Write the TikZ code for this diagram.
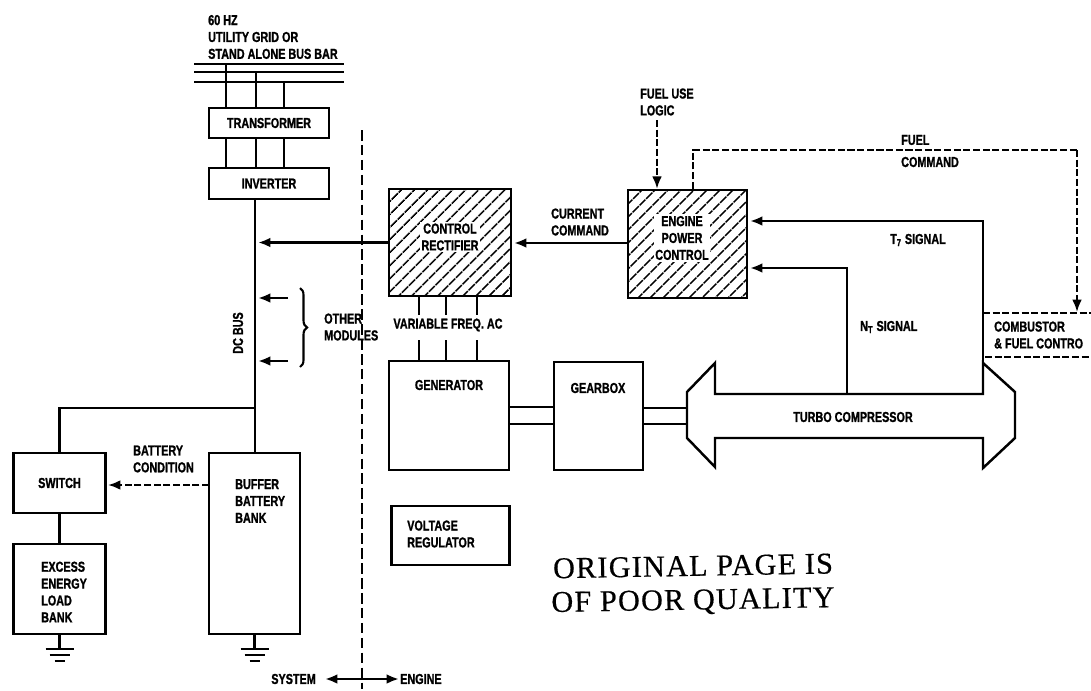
\documentclass[tikz,border=0pt]{standalone}
\usepackage{fontspec}
\setmainfont{Liberation Sans}[FakeStretch=0.75, BoldFeatures={FakeBold=1.2}]
\newfontfamily\stampfont{Liberation Serif}[FakeBold=0.5, LetterSpace=4]
\usepackage{tikz}
\usetikzlibrary{arrows.meta,patterns.meta,decorations.pathreplacing}

\begin{document}
\begin{tikzpicture}[>={Latex[length=7pt,width=5.5pt]}, x=0.02cm, y=-0.02cm, line width=1.4pt,
    block/.style={draw, inner sep=0pt, font=\bfseries\fontsize{8.2}{9.6}\selectfont, align=center},
    hatched/.style={block, pattern={Lines[angle=45, distance=5.4pt, line width=1pt]}},
    tag/.style={inner sep=0pt, font=\bfseries\fontsize{8.2}{9.6}\selectfont, align=left},
    cover/.style={tag, fill=white, inner sep=1pt, align=center},
    signal/.style={dash pattern=on 4pt off 1.5pt, line width=1.2pt},
    stamp/.style={rotate=1, inner sep=0pt, font=\stampfont\fontsize{17.2}{18}\selectfont}]
    \useasboundingbox (0,0) rectangle (1091,690);

    % grid side
    \coordinate (busL) at (194,0);
    \coordinate (busR) at (344,0);
    \node[tag, anchor=west] (grid) at (207,37) {60 HZ\\UTILITY GRID OR\\STAND ALONE BUS BAR};
    \node[block, minimum width=2.4cm, minimum height=0.6cm] (transformer) at (269,123) {TRANSFORMER};
    \node[block, minimum width=2.4cm, minimum height=0.62cm] (inverter) at (269,183.5) {INVERTER};

    \foreach \p/\x/\y in {a/226/64,b/256/72,c/284/82} {
        \coordinate (bus\p) at (\x,\y);
        \draw (busL |- bus\p) -- (busR |- bus\p);
        \draw (bus\p) -- (bus\p |- transformer.north);
        \draw (bus\p |- transformer.south) -- (bus\p |- inverter.north);
    }

    % dc bus and storage
    \node[block, minimum width=1.84cm, minimum height=1.2cm] (switch) at (59.5,483) {SWITCH};
    \node[block, minimum width=1.84cm, minimum height=1.8cm] (excess) at (59.5,589) {};
    \node[block, minimum width=1.82cm, minimum height=3.62cm] (buffer) at (254.5,543.5) {};
    \node[tag, anchor=west] (excesstext) at (40,592) {EXCESS\\ENERGY\\LOAD\\BANK};
    \node[tag, anchor=west] (buffertext) at (234,501) {BUFFER\\BATTERY\\BANK};

    \coordinate (invout) at (255,199);
    \coordinate (busend) at (255,453);
    \coordinate (branch) at (255,408);
    \coordinate (railin) at (258,242.5);
    \draw (invout) -- (busend);
    \draw (branch) -| (switch.north);
    \draw (switch) -- (excess);
    \node[tag, rotate=90] (dcbus) at (238,333) {DC BUS};

    \foreach \n in {excess,buffer} {
        \coordinate (\n gnd) at ([yshift=-0.28cm]\n.south);
        \draw (\n.south) -- (\n gnd);
        \draw (\n gnd) ++(-14,0) -- ++(28,0) ++(-24,6) -- ++(20,0) ++(-15,6) -- ++(10,0);
    }

    \coordinate (batout) at (209,485);
    \coordinate (batin) at (108,485);
    \draw[signal, ->] (batout) -- (batin);
    \node[tag, anchor=west] (battery) at (132,459) {BATTERY\\CONDITION};

    % other modules
    \foreach \i/\y in {m1/298,m2/361} {
        \coordinate (\i a) at (288,\y);
        \coordinate (\i b) at (258,\y);
        \draw[->] (\i a) -- (\i b);
    }
    \coordinate (braceT) at (300,288);
    \coordinate (braceB) at (300,367);
    \draw[line width=1.2pt, decorate, decoration={brace, amplitude=4pt}] (braceT) -- (braceB);
    \node[tag, anchor=west] (others) at (323,327) {OTHER\\MODULES};

    % system / engine boundary
    \coordinate (sysT) at (362,130);
    \coordinate (sysB) at (362,689);
    \draw[dash pattern=on 6pt off 2.5pt, line width=1.5pt] (sysT) -- (sysB);
    \node[tag, anchor=east] (system) at (317,679) {SYSTEM};
    \node[tag, anchor=west] (engineside) at (399,679) {ENGINE};
    \draw[<->] (system.east) ++(8,0) -- (engineside.west);

    % control side
    \node[hatched, minimum width=2.44cm, minimum height=2.14cm] (rectifier) at (450,242.5) {};
    \node[cover] (rectifiertext) at (450,237) {CONTROL\\RECTIFIER};
    \node[hatched, minimum width=2.38cm, minimum height=2.16cm] (engine) at (687.5,244) {};
    \node[cover] (enginetext) at (682,238) {ENGINE\\POWER\\CONTROL};

    \draw[->] (rectifier) -- (railin);
    \coordinate (cmdin) at (514,243);
    \draw[->] (engine.west |- cmdin) -- (cmdin);
    \node[tag, anchor=west] (current) at (550,222) {CURRENT\\COMMAND};

    % machine train
    \node[block, minimum width=2.4cm, minimum height=2.18cm] (generator) at (449,415.5) {};
    \node[tag] (generatortext) at (449,385) {GENERATOR};
    \node[block, minimum width=1.78cm, minimum height=2.16cm] (gearbox) at (598.5,416) {};
    \node[tag] (gearboxtext) at (598,388) {GEARBOX};
    \node[block, minimum width=2.36cm, minimum height=1.18cm] (regulator) at (450.5,535.5) {};
    \node[tag, anchor=west] (regulatortext) at (406,534) {VOLTAGE\\REGULATOR};

    \node[tag] (freq) at (448,325) {VARIABLE FREQ. AC};
    \foreach \i/\x in {u/419,v/446,w/477} {
        \coordinate (\i) at (\x,315);
        \coordinate (\i d) at (\x,340);
        \draw (rectifier.south -| \i) -- (\i);
        \draw (\i d) -- (generator.north -| \i d);
    }

    \foreach \y in {407,424} {
        \coordinate (shaft\y) at (600,\y);
        \draw (generator.east |- shaft\y) -- (gearbox.west |- shaft\y);
    }
    \coordinate (turboL) at (687,392);
    \coordinate (turboLb) at (687,438);
    \coordinate (sigN) at (847,394);
    \coordinate (sigT) at (983,394);
    \draw (turboL) -- (715,363) -- (715,394) -- (sigN) -- (sigT) -- (983,363) -- (1015,392)
        -- (1015,438) -- (983,468) -- (983,438) -- (715,438) -- (715,467) -- (turboLb) -- cycle;
    \node[tag] (turbo) at (853,417) {TURBO COMPRESSOR};
    \foreach \y in {408,424} {
        \coordinate (drive\y) at (687,\y);
        \draw (gearbox.east |- drive\y) -- (drive\y);
    }

    \coordinate (tin) at (750,221);
    \coordinate (nin) at (750,268);
    \draw[->] (sigT) |- (tin);
    \draw[->] (sigN) |- (nin);
    \node[tag, anchor=west] (tsignal) at (889,240) {T\textsubscript{7} SIGNAL};
    \node[tag, anchor=west] (nsignal) at (859,327) {N\textsubscript{T} SIGNAL};

    % fuel path
    \node[tag, anchor=west] (logic) at (639,102) {FUEL USE\\LOGIC};
    \coordinate (logicout) at (657,120);
    \draw[signal, ->] (logicout) -- (logicout |- engine.north);
    \coordinate (fuelup) at (693,150);
    \coordinate (fueltop) at (1077,150);
    \coordinate (fuelin) at (1077,312);
    \draw[signal] (fuelup |- engine.north) -- (fuelup) -- (fueltop);
    \draw[signal, ->] (fueltop) -- (fuelin);
    \node[tag, anchor=west] (fuel) at (900,140) {FUEL};
    \node[tag, anchor=west] (command) at (900,162) {COMMAND};

    \coordinate (combTL) at (983,313);
    \coordinate (combTR) at (1091,313);
    \coordinate (combBL) at (985,357);
    \coordinate (combBR) at (1091,357);
    \draw[signal] (combTL) -- (combTR);
    \draw[signal] (combBL) -- (combBR);
    \node[tag, anchor=west] (combustor) at (993,335) {COMBUSTOR\\\& FUEL CONTRO};

    % page stamp
    \node[stamp] (stampa) at (693,566) {ORIGINAL PAGE IS};
    \node[stamp] (stampb) at (693,602) {OF POOR QUALITY};
\end{tikzpicture}
\end{document}
